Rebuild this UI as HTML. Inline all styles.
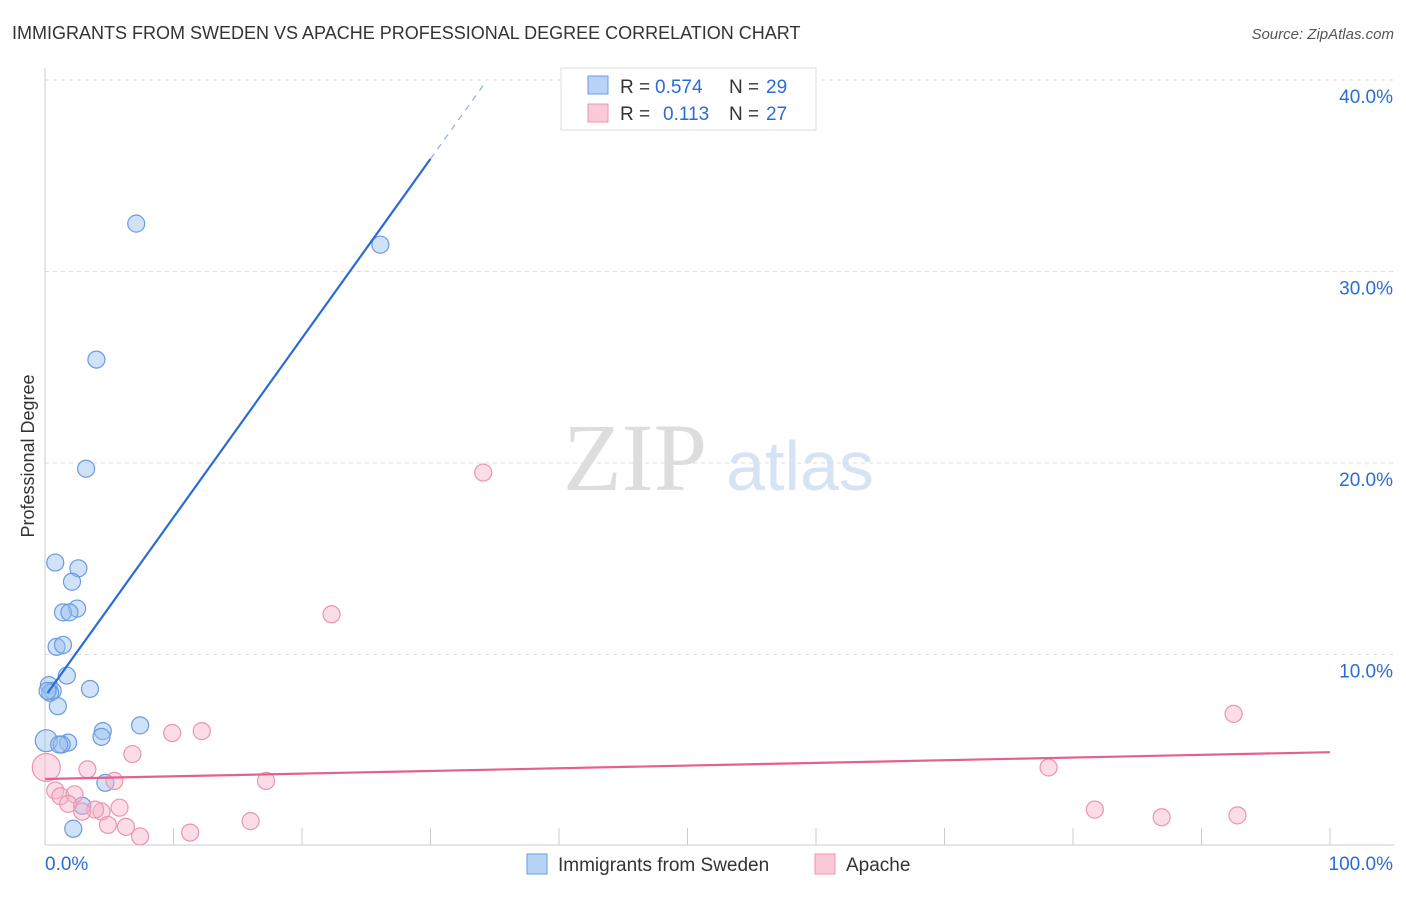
<!DOCTYPE html>
<html><head><meta charset="utf-8"><style>
body{margin:0;background:#fff;font-family:"Liberation Sans",sans-serif}
</style></head><body>
<svg width="1406" height="892" xmlns="http://www.w3.org/2000/svg" font-family="Liberation Sans, sans-serif">
<text x="12" y="39" font-size="18" fill="#333">IMMIGRANTS FROM SWEDEN VS APACHE PROFESSIONAL DEGREE CORRELATION CHART</text>
<text x="1394" y="39" font-size="15" fill="#555" text-anchor="end" font-style="italic">Source: ZipAtlas.com</text>
<text x="635" y="490" font-size="96" fill="#ddd" text-anchor="middle" font-family="Liberation Serif, serif">ZIP</text>
<text x="800" y="490" font-size="70" fill="#d5e3f5" text-anchor="middle">atlas</text>
<g id="grid"></g>
<g id="axes"></g>
<text transform="translate(34,456) rotate(-90)" font-size="18" fill="#333" text-anchor="middle">Professional Degree</text>
<g id="marks"></g>
<g>
<rect x="561" y="68" width="255" height="62" fill="#fff" stroke="#ddd"/>
<rect x="588" y="76" width="20" height="18" fill="#b8d3f5" stroke="#6a9be0"/>
<rect x="588" y="104" width="20" height="18" fill="#fbcad9" stroke="#ec94b0"/>
<text x="620" y="93" font-size="19" fill="#333">R =</text>
<text x="655" y="93" font-size="19" fill="#2b6cd4">0.574</text>
<text x="729" y="93" font-size="19" fill="#333">N =</text>
<text x="766" y="93" font-size="19" fill="#2b6cd4">29</text>
<text x="620" y="120" font-size="19" fill="#333">R =</text>
<text x="663" y="120" font-size="19" fill="#2b6cd4">0.113</text>
<text x="729" y="120" font-size="19" fill="#333">N =</text>
<text x="766" y="120" font-size="19" fill="#2b6cd4">27</text>
</g>
<g>
<rect x="527" y="854" width="20" height="20" fill="#b8d3f5" stroke="#6a9be0"/>
<text x="558" y="871" font-size="19" fill="#333">Immigrants from Sweden</text>
<rect x="815" y="854" width="20" height="20" fill="#fbcad9" stroke="#ec94b0"/>
<text x="846" y="871" font-size="19" fill="#333">Apache</text>
</g>
</svg>
<script>
const blueX=[7.1,26.1,4.0,3.2,0.8,2.6,2.1,2.5,1.4,1.9,0.9,1.4,1.7,0.3,0.6,3.5,0.4,1.0,7.4,4.5,4.4,0.1,1.8,1.3,1.1,4.7,2.9,2.2,0.2];
const blueY=[32.5,31.4,25.4,19.7,14.8,14.5,13.8,12.4,12.2,12.2,10.4,10.5,8.9,8.4,8.1,8.2,8.0,7.3,6.3,6.0,5.7,5.5,5.4,5.3,5.3,3.3,2.1,0.9,8.1];
const pinkX=[34.1,22.3,92.5,12.2,9.9,6.8,78.1,17.2,5.4,3.3,0.1,0.8,1.2,2.3,1.8,5.8,4.4,3.9,2.9,4.9,6.3,7.4,11.3,16.0,81.7,86.9,92.8];
const pinkY=[19.5,12.1,6.9,6.0,5.9,4.8,4.1,3.4,3.4,4.0,4.1,2.9,2.6,2.7,2.2,2.0,1.8,1.9,1.8,1.1,1.0,0.5,0.7,1.3,1.9,1.5,1.6];
const yTicks=[10,20,30,40];
const yTickLabels=["10.0%","20.0%","30.0%","40.0%"];
const blueTrend=[7.8,0.936];
const pinkTrend=[3.5,0.014];
const NS="http://www.w3.org/2000/svg";
const sx=v=>45+v*12.85, sy=v=>846-v*19.15;
function mk(p,t,a){const e=document.createElementNS(NS,t);for(const k in a)e.setAttribute(k,a[k]);p.appendChild(e);return e;}
const grid=document.getElementById('grid'),axes=document.getElementById('axes'),marks=document.getElementById('marks');
yTicks.forEach((t,i)=>{
 const l=mk(grid,'line',{x1:45,x2:1394,y1:sy(t),y2:sy(t),stroke:'#ddd','stroke-dasharray':'4,4'});
 
 
 const tx=mk(axes,'text',{x:1393,y:sy(t)+23,'font-size':19,fill:'#2b6cd4','text-anchor':'end'});
 tx.textContent=yTickLabels[i];
 
 
});
const ax=mk(axes,'line',{x1:45,x2:45,y1:68,y2:845,stroke:'#ccc'});


const bx=mk(axes,'line',{x1:45,x2:1394,y1:845,y2:845,stroke:'#ccc'});


for(let i=0;i<=10;i++){const t=mk(axes,'line',{x1:sx(i*10),x2:sx(i*10),y1:828,y2:845,stroke:'#ccc'});
 
 }
[["0.0%",45,'start'],["100.0%",1393,'end']].forEach(d=>{const t=mk(axes,'text',{x:d[1],y:870,'font-size':19,fill:'#2b6cd4','text-anchor':d[2]});t.textContent=d[0];
 
 });
blueX.forEach((x,i)=>{const c=mk(marks,'circle',{cx:sx(x),cy:sy(blueY[i]),r:i==21?11:8.5,fill:'rgba(150,190,240,0.45)',stroke:'#6a9be0','stroke-width':1.2});
 
 });
pinkX.forEach((x,i)=>{const c=mk(marks,'circle',{cx:sx(x),cy:sy(pinkY[i]),r:i==10?14:8.5,fill:'rgba(248,180,200,0.45)',stroke:'#ec94b0','stroke-width':1.2});
 
 });
const bl=mk(marks,'line',{x1:sx(0.2),y1:sy(blueTrend[0]+blueTrend[1]*0.2),x2:sx(30),y2:sy(blueTrend[0]+blueTrend[1]*30),stroke:'#2b6cd4','stroke-width':2.2});


const bd=mk(marks,'line',{x1:sx(30),y1:sy(blueTrend[0]+blueTrend[1]*30),x2:sx(34.2),y2:sy(blueTrend[0]+blueTrend[1]*34.2),stroke:'#8ab0e8','stroke-width':1.2,'stroke-dasharray':'6,6'});


const pl=mk(marks,'line',{x1:sx(0),y1:sy(pinkTrend[0]),x2:sx(100),y2:sy(pinkTrend[0]+pinkTrend[1]*100),stroke:'#e4608e','stroke-width':2.2});


</script>
</body></html>
